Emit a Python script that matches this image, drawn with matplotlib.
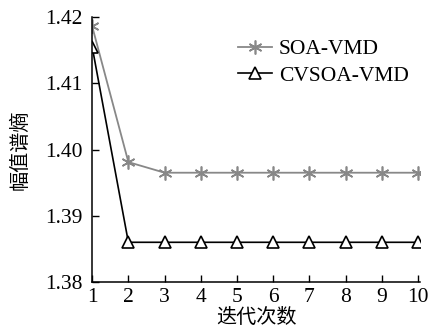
import matplotlib.pyplot as plt

# 迭代次数与幅值谱熵
iters = [1, 2, 3, 4, 5, 6, 7, 8, 9, 10]
soa_vmd = [1.4186, 1.3981, 1.3965, 1.3965, 1.3965, 1.3965, 1.3965, 1.3965, 1.3965, 1.3965]
cvsoa_vmd = [1.4155, 1.3860, 1.3860, 1.3860, 1.3860, 1.3860, 1.3860, 1.3860, 1.3860, 1.3860]
yticks = [1.38, 1.39, 1.40, 1.41, 1.42]

plt.rcParams['font.family'] = ['Liberation Serif', 'Noto Sans CJK SC']

fig = plt.figure(figsize=(4.41, 3.33), dpi=100)
ax = fig.add_axes([0.209, 0.153, 0.743, 0.796])

ax.plot(iters, soa_vmd, color='#888888', lw=1.3, marker=(6, 2, 0),
        markersize=10, markeredgewidth=1.2, label='SOA-VMD')
ax.plot(iters, cvsoa_vmd, color='black', lw=1.2, marker='^',
        markersize=9, markerfacecolor='white', markeredgewidth=1.2,
        label='CVSOA-VMD')

ax.set_xlim(1, 10.05)
ax.set_ylim(1.38, 1.42)
ax.set_xticks(iters)
ax.set_yticks(yticks)
ax.set_yticklabels(['%.2f' % v for v in yticks])
ax.tick_params(direction='in', length=5, width=1, labelsize=15.5)
ax.tick_params(axis='y', pad=7)
ax.tick_params(axis='x', pad=4)
ax.spines['top'].set_visible(False)
ax.spines['right'].set_visible(False)
for s in ['left', 'bottom']:
    ax.spines[s].set_linewidth(1.1)

ax.set_xlabel('迭代次数', fontsize=14.5, labelpad=2)
ax.set_ylabel('幅值谱熵', fontsize=14.5, labelpad=10)

ax.legend(loc='upper right', bbox_to_anchor=(1.025, 0.99), frameon=False,
          fontsize=15.5, handlelength=1.6, handletextpad=0.3, labelspacing=0.3)

fig.savefig('out.png', dpi=100)
